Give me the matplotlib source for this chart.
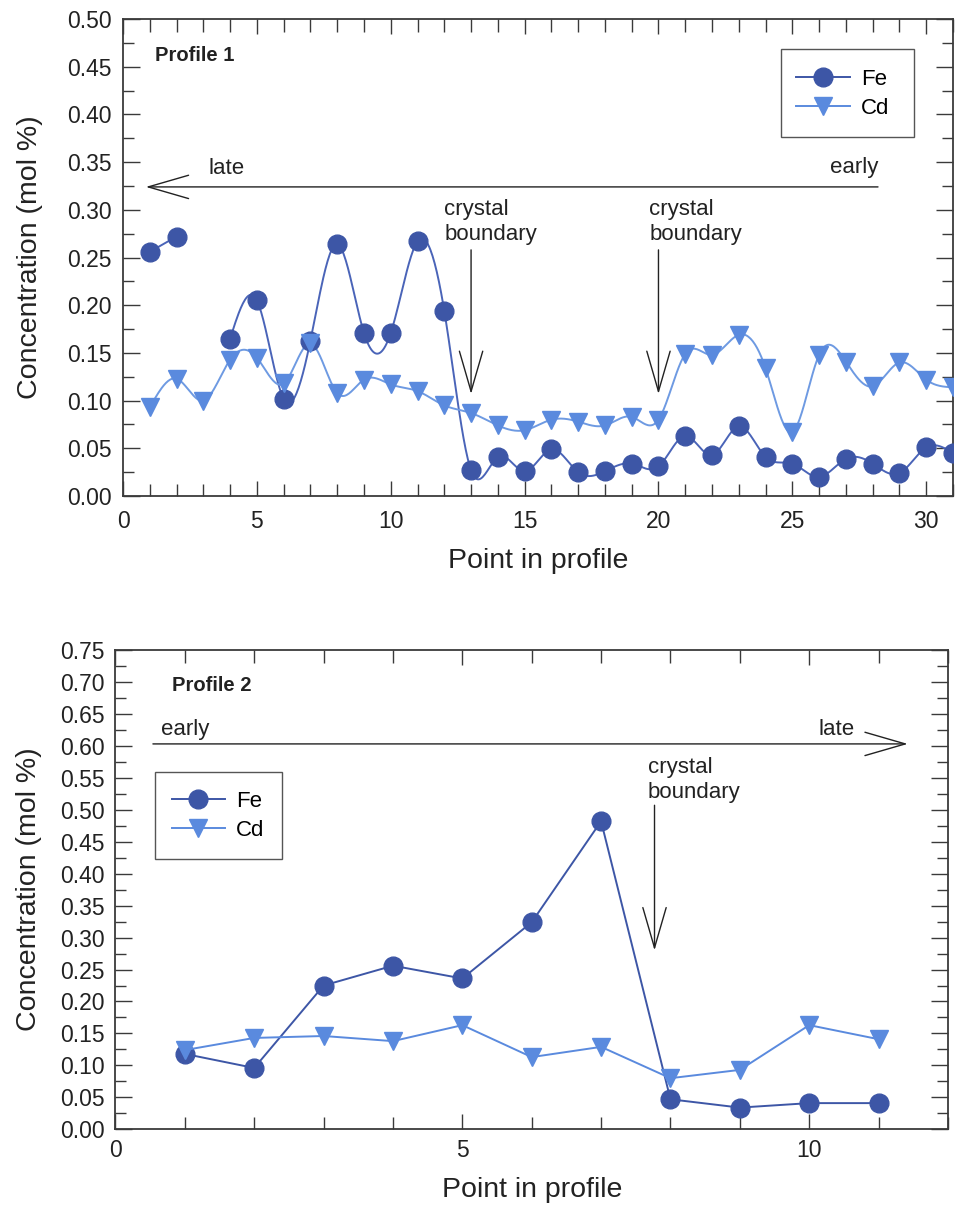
import numpy as np
import matplotlib
matplotlib.use("Agg")
import matplotlib.pyplot as plt
from matplotlib.ticker import MultipleLocator, FormatStrFormatter
from matplotlib.patches import Rectangle

plt.rcParams['font.family'] = ['Liberation Sans', 'DejaVu Sans']

# ---------------- data ----------------
p1_points = list(range(1, 32))
p1_fe = [0.256, 0.272, np.nan, 0.165, 0.205, 0.102, 0.163, 0.264, 0.171, 0.171,
         0.267, 0.194, 0.027, 0.041, 0.026, 0.049, 0.025, 0.026, 0.034, 0.031,
         0.063, 0.043, 0.073, 0.041, 0.034, 0.020, 0.039, 0.034, 0.024, 0.051, 0.045]
p1_cd = [0.093, 0.123, 0.100, 0.143, 0.145, 0.118, 0.160, 0.108, 0.122, 0.117,
         0.110, 0.095, 0.087, 0.074, 0.069, 0.080, 0.078, 0.074, 0.083, 0.080,
         0.149, 0.148, 0.169, 0.134, 0.067, 0.148, 0.141, 0.115, 0.140, 0.122, 0.114]

p2_points = list(range(1, 12))
p2_fe = [0.118, 0.096, 0.225, 0.256, 0.236, 0.324, 0.482, 0.047, 0.034, 0.041, 0.041]
p2_cd = [0.124, 0.143, 0.146, 0.138, 0.163, 0.113, 0.129, 0.080, 0.093, 0.163, 0.141]

series_labels = ["Fe", "Cd"]
fe_color = "#3d56a6"
fe_line = "#4a64b8"
cd_color = "#5a8ade"
cd_line = "#6e9ae2"


def natural_spline(x, y, n=25):
    x = np.asarray(x, float)
    y = np.asarray(y, float)
    k = len(x)
    if k < 3:
        return x, y
    h = np.diff(x)
    A = np.zeros((k, k))
    b = np.zeros(k)
    A[0, 0] = 1
    A[-1, -1] = 1
    for i in range(1, k - 1):
        A[i, i - 1] = h[i - 1]
        A[i, i] = 2 * (h[i - 1] + h[i])
        A[i, i + 1] = h[i]
        b[i] = 6 * ((y[i + 1] - y[i]) / h[i] - (y[i] - y[i - 1]) / h[i - 1])
    M = np.linalg.solve(A, b)
    xs, ys = [], []
    for i in range(k - 1):
        t = np.linspace(x[i], x[i + 1], n, endpoint=(i == k - 2))
        a = x[i + 1] - t
        c = t - x[i]
        s = (M[i] * a ** 3 + M[i + 1] * c ** 3) / (6 * h[i]) \
            + (y[i] / h[i] - M[i] * h[i] / 6) * a \
            + (y[i + 1] / h[i] - M[i + 1] * h[i] / 6) * c
        xs.append(t)
        ys.append(s)
    return np.concatenate(xs), np.concatenate(ys)


def segments(x, y):
    x = np.asarray(x, float)
    y = np.asarray(y, float)
    segs = []
    cur_x, cur_y = [], []
    for xi, yi in zip(x, y):
        if np.isnan(yi):
            if cur_x:
                segs.append((cur_x, cur_y))
            cur_x, cur_y = [], []
        else:
            cur_x.append(xi)
            cur_y.append(yi)
    if cur_x:
        segs.append((cur_x, cur_y))
    return segs


fig = plt.figure(figsize=(9.59, 12.09), dpi=100)
ax1 = fig.add_axes([0.1283, 0.5897, 0.8654, 0.3946])
ax2 = fig.add_axes([0.1204, 0.0659, 0.8681, 0.3965])

spine_c = "#3a3a3a"
text_c = "#222222"
tick_fs = 16.5
label_fs = 20.5
ann_fs = 16.0
leg_fs = 16.0
ms_fe = 13.5
ms_cd = 12.5


def style_axes(ax, xmax, ymax, xmajor, ymajor, xpad):
    ax.set_xlim(0, xmax)
    ax.set_ylim(0, ymax)
    ax.xaxis.set_major_locator(MultipleLocator(xmajor))
    ax.xaxis.set_minor_locator(MultipleLocator(1))
    ax.yaxis.set_major_locator(MultipleLocator(ymajor))
    ax.yaxis.set_minor_locator(MultipleLocator(0.025))
    ax.yaxis.set_major_formatter(FormatStrFormatter('%.2f'))
    ax.tick_params(which='both', direction='in', top=True, right=True,
                   color=spine_c, width=1.0, labelsize=tick_fs, labelcolor=text_c)
    ax.tick_params(axis='y', which='major', length=12, pad=8)
    ax.tick_params(axis='y', which='minor', length=8)
    ax.tick_params(axis='x', which='major', length=11, pad=xpad)
    ax.tick_params(axis='x', which='minor', length=9)
    for s in ax.spines.values():
        s.set_color(spine_c)
        s.set_linewidth(1.3)
    ax.set_xlabel("Point in profile", fontsize=label_fs, color=text_c)
    ax.set_ylabel("Concentration (mol %)", fontsize=label_fs, color=text_c)


def arrow(ax, tip, tail):
    ax.annotate('', xy=tip, xytext=tail,
                arrowprops=dict(arrowstyle='->,head_length=1.45,head_width=0.42',
                                mutation_scale=20, lw=1.0, color=text_c,
                                shrinkA=0, shrinkB=0))


def legend_box(ax, x0, y0, x1, y1):
    ax.add_patch(Rectangle((x0, y0), x1 - x0, y1 - y0, transform=ax.transAxes,
                           fill=True, facecolor='white', edgecolor='#555555',
                           lw=1.0, zorder=5))


leg_kw = dict(fontsize=leg_fs, frameon=False, borderpad=0.0, handlelength=2.4,
              labelspacing=0.35, handletextpad=0.5, borderaxespad=0.0)

# ---------------- Profile 1 ----------------
style_axes(ax1, 31, 0.5, 5, 0.05, 10)
for sx, sy in segments(p1_points, p1_fe):
    xs, ys = natural_spline(sx, sy)
    ax1.plot(xs, ys, color=fe_line, lw=1.4, zorder=2)
for sx, sy in segments(p1_points, p1_cd):
    xs, ys = natural_spline(sx, sy)
    ax1.plot(xs, ys, color=cd_line, lw=1.4, zorder=2)
ax1.plot(p1_points, p1_fe, 'o', color=fe_color, ms=ms_fe, zorder=3)
ax1.plot(p1_points, p1_cd, 'v', color=cd_color, ms=ms_cd, zorder=4)
h1 = ax1.plot([], [], 'o-', color=fe_color, ms=ms_fe, lw=1.4, label=series_labels[0])[0]
h2 = ax1.plot([], [], 'v-', color=cd_color, ms=ms_cd, lw=1.4, label=series_labels[1])[0]
legend_box(ax1, 0.7932, 0.7526, 0.9535, 0.9371)
lg1 = ax1.legend(handles=[h1, h2], loc='upper left', bbox_to_anchor=(0.8113, 0.895), **leg_kw)
lg1.set_zorder(6)
ax1.xaxis.set_label_coords(0.5, -0.108)
ax1.yaxis.set_label_coords(-0.097, 0.5)

ax1.text(1.2, 0.462, "Profile 1", fontsize=14.5, fontweight='bold', color=text_c,
         va='center')
arrow(ax1, (0.85, 0.324), (28.2, 0.324))
ax1.text(3.2, 0.343, "late", fontsize=ann_fs, color=text_c, va='center')
ax1.text(28.2, 0.344, "early", fontsize=ann_fs, color=text_c, va='center', ha='right')
ax1.text(12.0, 0.287, "crystal\nboundary", fontsize=ann_fs, color=text_c,
         va='center', ha='left', linespacing=1.25)
arrow(ax1, (13, 0.107), (13, 0.258))
ax1.text(19.65, 0.287, "crystal\nboundary", fontsize=ann_fs, color=text_c,
         va='center', ha='left', linespacing=1.25)
arrow(ax1, (20, 0.107), (20, 0.258))

# ---------------- Profile 2 ----------------
style_axes(ax2, 12, 0.75, 5, 0.05, 7)
ax2.plot(p2_points, p2_fe, 'o-', color=fe_color, ms=ms_fe, lw=1.4, zorder=3,
         label=series_labels[0])
ax2.plot(p2_points, p2_cd, 'v-', color=cd_color, ms=ms_cd, lw=1.4, zorder=4,
         label=series_labels[1])
legend_box(ax2, 0.0474, 0.5640, 0.2000, 0.7455)
lg2 = ax2.legend(loc='upper left', bbox_to_anchor=(0.0675, 0.7058), **leg_kw)
lg2.set_zorder(6)
ax2.xaxis.set_label_coords(0.5, -0.1)
ax2.yaxis.set_label_coords(-0.088, 0.5)

ax2.text(0.82, 0.695, "Profile 2", fontsize=14.5, fontweight='bold', color=text_c,
         va='center')
arrow(ax2, (11.42, 0.603), (0.54, 0.603))
ax2.text(0.65, 0.626, "early", fontsize=ann_fs, color=text_c, va='center')
ax2.text(10.66, 0.626, "late", fontsize=ann_fs, color=text_c, va='center', ha='right')
ax2.text(7.67, 0.546, "crystal\nboundary", fontsize=ann_fs, color=text_c,
         va='center', ha='left', linespacing=1.25)
arrow(ax2, (7.77, 0.28), (7.77, 0.507))

fig.savefig("out.png", dpi=100)
